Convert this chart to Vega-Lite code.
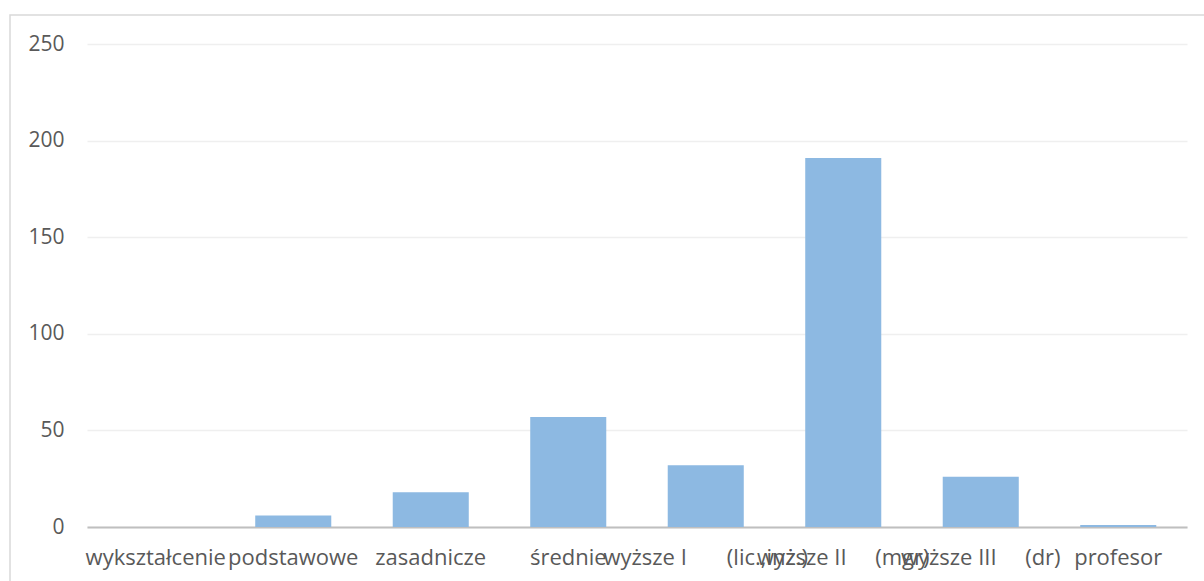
{
  "$schema": "https://vega.github.io/schema/vega-lite/v6.json",
  "autosize": "none",
  "width": 1194,
  "height": 566,
  "padding": {"left": 10, "top": 15, "right": 0, "bottom": 0},
  "background": "white",
  "config": {
    "font": "Open Sans",
    "view": {"stroke": "#d9d9d9", "strokeWidth": 1.5, "strokeDash": [1760, 1760], "strokeDashOffset": 566}
  },
  "data": {
    "values": [
      {"kategoria": "wykształcenie", "liczba": 0},
      {"kategoria": "podstawowe", "liczba": 6},
      {"kategoria": "zasadnicze", "liczba": 18},
      {"kategoria": "średnie", "liczba": 57},
      {"kategoria": "wyższe I\u00a0\u00a0\u00a0\u00a0\u00a0\u00a0\u00a0(lic.,inż.)", "liczba": 32},
      {"kategoria": "wyższe II\u00a0\u00a0\u00a0\u00a0\u00a0(mgr)", "liczba": 191},
      {"kategoria": "wyższe III\u00a0\u00a0\u00a0\u00a0\u00a0(dr)", "liczba": 26},
      {"kategoria": "profesor", "liczba": 1}
    ]
  },
  "mark": {"type": "bar", "color": "#8db9e2"},
  "encoding": {
    "x": {
      "field": "kategoria",
      "type": "nominal",
      "sort": null,
      "scale": {"range": [77, 1177], "paddingInner": 0.447, "paddingOuter": 0.2235},
      "axis": {
        "title": null,
        "orient": "bottom",
        "offset": -54,
        "domainColor": "#bfbfbf",
        "domainWidth": 2,
        "ticks": false,
        "tickSize": 0,
        "labelAngle": 0,
        "labelFont": "Open Sans",
        "labelFontSize": 22,
        "labelColor": "#595959",
        "labelPadding": 37,
        "labelBaseline": "alphabetic",
        "labelOverlap": false,
        "labelLimit": 0,
        "grid": false
      }
    },
    "y": {
      "field": "liczba",
      "type": "quantitative",
      "scale": {"domain": [0, 250], "range": [512, 29], "nice": false},
      "axis": {
        "title": null,
        "orient": "left",
        "offset": -77,
        "values": [0, 50, 100, 150, 200, 250],
        "domain": false,
        "ticks": false,
        "tickSize": 0,
        "labelPadding": 23,
        "labelFont": "Open Sans",
        "labelFontSize": 21,
        "labelColor": "#595959",
        "labelBaseline": "middle",
        "grid": true,
        "gridColor": "#efefef",
        "gridWidth": 1.5
      }
    }
  }
}
